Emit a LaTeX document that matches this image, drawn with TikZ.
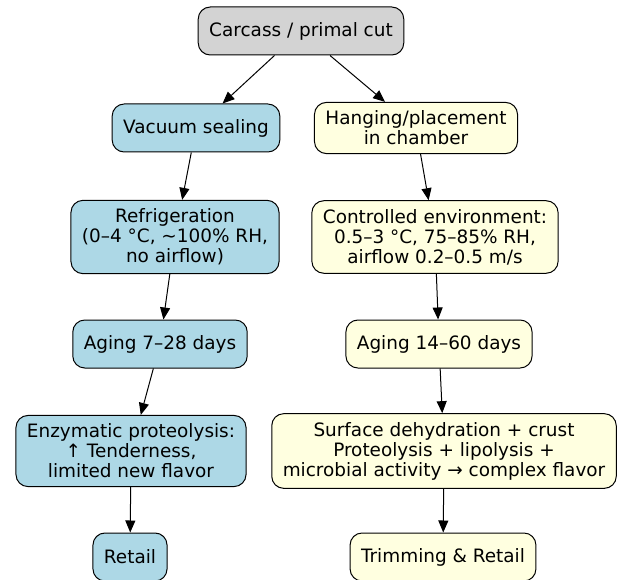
\documentclass[tikz,border=0pt]{standalone}
\usepackage{fontspec}
\setmainfont{DejaVu Sans}
\usetikzlibrary{arrows.meta}

\definecolor{cutgray}{RGB}{211,211,211}
\definecolor{vacblue}{RGB}{173,216,230}
\definecolor{drycream}{RGB}{255,255,224}

\tikzset{
    stage/.style={draw, rounded corners=12bp, align=center, inner xsep=11bp, inner ysep=8.5bp,
        minimum height=48bp, line width=1bp, font=\fontsize{18.5}{20}\selectfont},
    cut/.style={stage, fill=cutgray},
    wet/.style={stage, fill=vacblue},
    dry/.style={stage, fill=drycream},
    flow/.style={-{Triangle[length=12bp,width=10bp]}, line width=1bp}
}

\begin{document}
\begin{tikzpicture}[x=1bp, y=-1bp]
    \useasboundingbox (0,0) rectangle (618,580);

    % Ausgangsmaterial
    \node[cut] (carcass) at (301,31) {Carcass / primal cut};

    % Nassreifung (links)
    \node[wet] (vacuum) at (196,128) {Vacuum sealing};
    \node[wet] (refrig) at (175,237) {Refrigeration\\(0–4 °C, \textasciitilde100\% RH,\\no airflow)};
    \node[wet] (agewet) at (160,344) {Aging 7–28 days};
    \node[wet] (enzyme) at (131,451) {Enzymatic proteolysis:\\↑ Tenderness,\\limited new flavor};
    \node[wet] (retail) at (130,557) {Retail};

    % Trockenreifung (rechts)
    \node[dry] (hanging) at (416,128) {Hanging/placement\\in chamber};
    \node[dry] (control) at (435,237) {Controlled environment:\\0.5–3 °C, 75–85\% RH,\\airflow 0.2–0.5 m/s};
    \node[dry] (agedry) at (439,344) {Aging 14–60 days};
    \node[dry] (surface) at (444,451) {Surface dehydration + crust\\Proteolysis + lipolysis +\\microbial activity → complex flavor};
    \node[dry] (trim) at (443,557) {Trimming \& Retail};

    % Pfeile
    \draw[flow] (carcass) -- (vacuum);
    \draw[flow] (carcass) -- (hanging);
    \draw[flow] (vacuum) -- (refrig);
    \draw[flow] (refrig) -- (agewet);
    \draw[flow] (agewet) -- (enzyme);
    \draw[flow] (enzyme) -- (retail);
    \draw[flow] (hanging) -- (control);
    \draw[flow] (control) -- (agedry);
    \draw[flow] (agedry) -- (surface);
    \draw[flow] (surface) -- (trim);
\end{tikzpicture}
\end{document}
